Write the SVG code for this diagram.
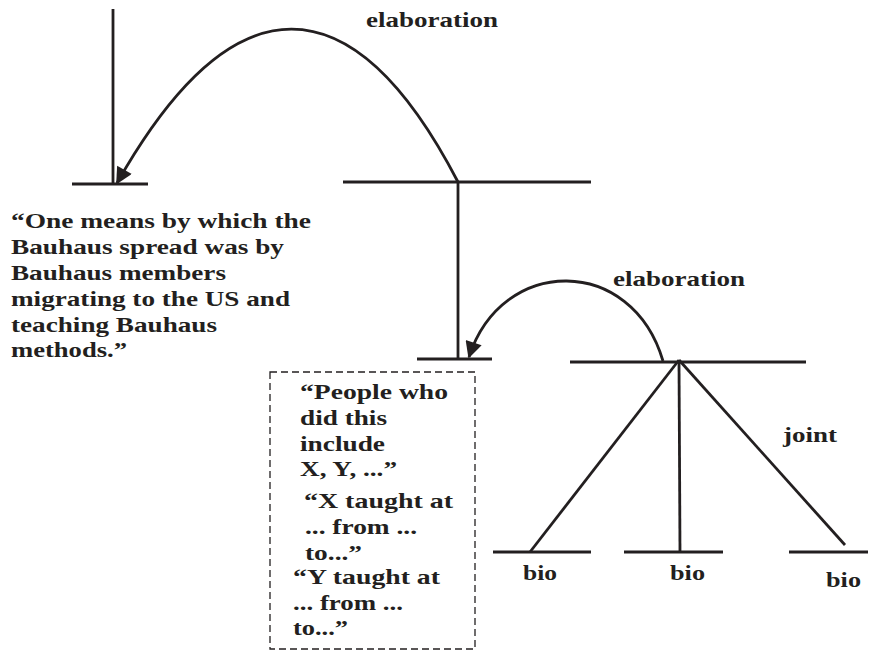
<svg xmlns="http://www.w3.org/2000/svg" width="880" height="651" viewBox="0 0 880 651">
<style>
.ln{stroke:#231f20;stroke-width:2.8;fill:none;stroke-linecap:butt}
.t{font-family:"Liberation Serif","Times New Roman",serif;font-weight:bold;font-size:21px;fill:#231f20}
.box{fill:none;stroke:#231f20;stroke-width:1.3;stroke-dasharray:7,4}
</style>
<defs>
<marker id="ah" viewBox="0 0 10 10" refX="9" refY="5" markerWidth="6.5" markerHeight="6" orient="auto" markerUnits="strokeWidth">
<path d="M0,0 L10,5 L0,10 z" fill="#231f20"/>
</marker>
</defs>
<rect width="880" height="651" fill="#ffffff"/>
<g id="connectors">
<line class="ln" x1="113" y1="9" x2="113" y2="184"/>
<line class="ln" x1="458" y1="182" x2="458" y2="359"/>
<path class="ln" d="M458,182 C352,-22 233,-22 117,183" marker-end="url(#ah)"/>
<path class="ln" d="M663,361 C632,255 502,255 469,357" marker-end="url(#ah)"/>
<line class="ln" x1="679" y1="360" x2="530" y2="552"/>
<line class="ln" x1="679" y1="360" x2="680" y2="552"/>
<line class="ln" x1="679" y1="360" x2="845" y2="545"/>
<text class="t" x="366" y="27" textLength="132" lengthAdjust="spacingAndGlyphs">elaboration</text>
<text class="t" x="613" y="286" textLength="132" lengthAdjust="spacingAndGlyphs">elaboration</text>
<text class="t" x="783" y="442" textLength="54" lengthAdjust="spacingAndGlyphs">joint</text>
</g>
<g id="root">
<line class="ln" x1="343" y1="182" x2="591" y2="182"/>
</g>
<g id="satellite1">
<line class="ln" x1="72" y1="184" x2="148" y2="184"/>
<text class="t" x="11" y="228" textLength="300" lengthAdjust="spacingAndGlyphs">“One means by which the</text>
<text class="t" x="11" y="254" textLength="273" lengthAdjust="spacingAndGlyphs">Bauhaus spread was by</text>
<text class="t" x="11" y="280" textLength="215" lengthAdjust="spacingAndGlyphs">Bauhaus members</text>
<text class="t" x="11" y="306" textLength="279" lengthAdjust="spacingAndGlyphs">migrating to the US and</text>
<text class="t" x="11" y="332" textLength="206" lengthAdjust="spacingAndGlyphs">teaching Bauhaus</text>
<text class="t" x="11" y="357" textLength="116" lengthAdjust="spacingAndGlyphs">methods.”</text>
</g>
<g id="nucleus2">
<line class="ln" x1="417" y1="359" x2="492" y2="359"/>
<rect class="box" x="270" y="372" width="205" height="277"/>
<text class="t" x="300" y="399" textLength="148" lengthAdjust="spacingAndGlyphs">“People who</text>
<text class="t" x="300" y="425" textLength="87" lengthAdjust="spacingAndGlyphs">did this</text>
<text class="t" x="300" y="451" textLength="85" lengthAdjust="spacingAndGlyphs">include</text>
<text class="t" x="300" y="476" textLength="97" lengthAdjust="spacingAndGlyphs">X, Y, ...”</text>
<text class="t" x="304" y="508" textLength="149" lengthAdjust="spacingAndGlyphs">“X taught at</text>
<text class="t" x="305" y="534" textLength="112" lengthAdjust="spacingAndGlyphs">... from ...</text>
<text class="t" x="305" y="560" textLength="57" lengthAdjust="spacingAndGlyphs">to...”</text>
<text class="t" x="293" y="584" textLength="147" lengthAdjust="spacingAndGlyphs">“Y taught at</text>
<text class="t" x="293" y="610" textLength="110" lengthAdjust="spacingAndGlyphs">... from ...</text>
<text class="t" x="293" y="635" textLength="55" lengthAdjust="spacingAndGlyphs">to...”</text>
</g>
<g id="joint">
<line class="ln" x1="570" y1="362" x2="806" y2="362"/>
</g>
<g id="bio1">
<line class="ln" x1="493" y1="552" x2="591" y2="552"/>
<text class="t" x="523" y="580" textLength="34" lengthAdjust="spacingAndGlyphs">bio</text>
</g>
<g id="bio2">
<line class="ln" x1="624" y1="552" x2="723" y2="552"/>
<text class="t" x="670" y="580" textLength="35" lengthAdjust="spacingAndGlyphs">bio</text>
</g>
<g id="bio3">
<line class="ln" x1="789" y1="552" x2="868" y2="552"/>
<text class="t" x="826" y="587" textLength="35" lengthAdjust="spacingAndGlyphs">bio</text>
</g>
</svg>
